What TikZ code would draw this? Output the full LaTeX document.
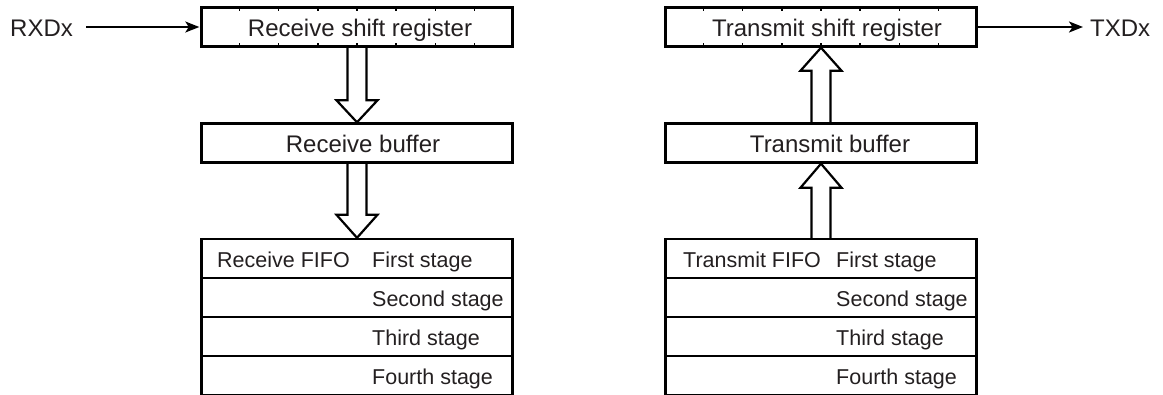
\documentclass[tikz,border=0pt]{standalone}
\usepackage{fontspec}
\setmainfont{Liberation Sans}
\usetikzlibrary{arrows.meta,calc}
\definecolor{txt}{HTML}{231F20}
\begin{document}
\begin{tikzpicture}[x=1pt,y=-1pt,
  box/.style={draw=black, line width=2.4pt, minimum width=311pt, minimum height=39pt, inner sep=0pt},
  maintxt/.style={font=\fontsize{24}{28}\selectfont, text=txt, anchor=base, inner sep=0pt},
  fifotxt/.style={font=\fontsize{21.5}{25}\selectfont, text=txt, anchor=base west, inner sep=0pt},
  sigtxt/.style={font=\fontsize{24}{28}\selectfont, text=txt, anchor=base west, inner sep=0pt},
  sig/.style={draw=black, line width=2pt, -{Stealth[length=14pt,width=11pt,inset=3.5pt]}},
  hollow/.style={draw=black, line width=2.2pt, line join=miter},
  tick/.style={draw=black, line width=1.6pt}
]
\useasboundingbox (0,0) rectangle (1163,394);

% Receive side boxes
\node[box] (rsr) at (357,27) {};
\node[box] (rb)  at (357,143) {};
\node[box] (rf1) at (357,258.5) {};
\node[box] (rf2) at (357,297.5) {};
\node[box] (rf3) at (357,336.5) {};
\node[box] (rf4) at (357,375.5) {};

% Transmit side boxes
\node[box] (tsr) at (821,27) {};
\node[box] (tb)  at (821,143) {};
\node[box] (tf1) at (821,258.5) {};
\node[box] (tf2) at (821,297.5) {};
\node[box] (tf3) at (821,336.5) {};
\node[box] (tf4) at (821,375.5) {};

% ticks on shift registers
\foreach \r in {rsr,tsr}{
  \foreach \i in {1,...,7}{
    \draw[tick] ($(\r.north west)!\i/8!(\r.north east)$) -- +(0,4.5);
    \draw[tick] ($(\r.south west)!\i/8!(\r.south east)$) -- +(0,-4.5);
  }
}

% texts
\node[maintxt] at (360,36.5) {Receive shift register};
\node[maintxt] at (363,152.5) {Receive buffer};
\node[maintxt] at (827,36.5) {Transmit shift register};
\node[maintxt] at (830,152.5) {Transmit buffer};

\node[fifotxt] at (217,267.5) {Receive FIFO};
\node[fifotxt] at (372,267.5) {First stage};
\node[fifotxt] at (372,306.5) {Second stage};
\node[fifotxt] at (372,345.5) {Third stage};
\node[fifotxt] at (372,384.5) {Fourth stage};

\node[fifotxt] at (683,267.5) {Transmit FIFO};
\node[fifotxt] at (836,267.5) {First stage};
\node[fifotxt] at (836,306.5) {Second stage};
\node[fifotxt] at (836,345.5) {Third stage};
\node[fifotxt] at (836,384.5) {Fourth stage};

% signals
\node[sigtxt] (rx) at (10,36.5) {RXDx};
\node[sigtxt] (tx) at (1090,36.5) {TXDx};
\draw[sig, shorten <=13pt, shorten >=1pt] (rx.east |- rsr.west) -- (rsr.west);
\draw[sig, shorten >=7pt] (tsr.east) -- (tsr.east -| tx.west);

% hollow arrows, receive (down)
\draw[hollow] ([xshift=-9.5pt]rsr.south) -- ([xshift=-9.5pt,yshift=22pt]rb.north)
  -- ([xshift=-20.5pt,yshift=22pt]rb.north) -- (rb.north)
  -- ([xshift=20.5pt,yshift=22pt]rb.north) -- ([xshift=9.5pt,yshift=22pt]rb.north)
  -- ([xshift=9.5pt]rsr.south);
\draw[hollow] ([xshift=-9.5pt]rb.south) -- ([xshift=-9.5pt,yshift=23pt]rf1.north)
  -- ([xshift=-20.5pt,yshift=23pt]rf1.north) -- (rf1.north)
  -- ([xshift=20.5pt,yshift=23pt]rf1.north) -- ([xshift=9.5pt,yshift=23pt]rf1.north)
  -- ([xshift=9.5pt]rb.south);

% hollow arrows, transmit (up)
\draw[hollow] ([xshift=-9.5pt]tb.north) -- ([xshift=-9.5pt,yshift=-23pt]tsr.south)
  -- ([xshift=-20.5pt,yshift=-23pt]tsr.south) -- (tsr.south)
  -- ([xshift=20.5pt,yshift=-23pt]tsr.south) -- ([xshift=9.5pt,yshift=-23pt]tsr.south)
  -- ([xshift=9.5pt]tb.north);
\draw[hollow] ([xshift=-9.5pt]tf1.north) -- ([xshift=-9.5pt,yshift=-24pt]tb.south)
  -- ([xshift=-20.5pt,yshift=-24pt]tb.south) -- (tb.south)
  -- ([xshift=20.5pt,yshift=-24pt]tb.south) -- ([xshift=9.5pt,yshift=-24pt]tb.south)
  -- ([xshift=9.5pt]tf1.north);
\end{tikzpicture}
\end{document}
